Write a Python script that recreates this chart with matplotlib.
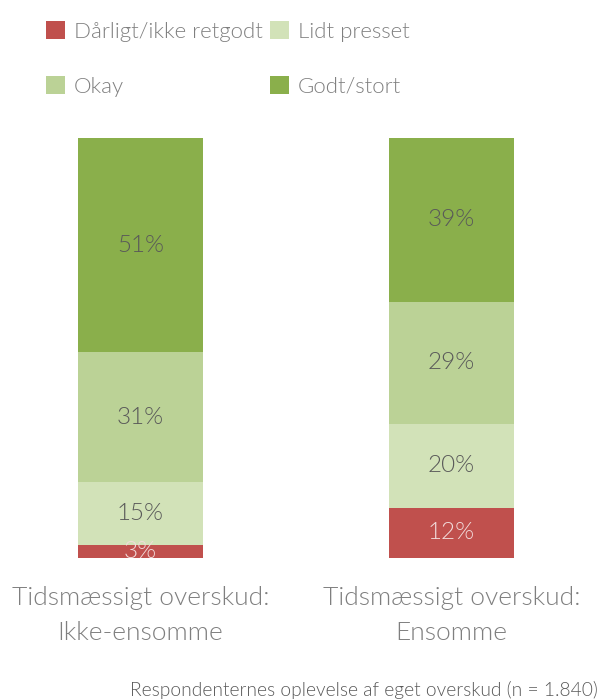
import matplotlib
matplotlib.use("Agg")
import matplotlib.pyplot as plt

plt.rcParams['font.family'] = ['Lato', 'DejaVu Sans']
plt.rcParams['font.weight'] = 300

categories = ["Tidsmæssigt overskud:\nIkke-ensomme", "Tidsmæssigt overskud:\nEnsomme"]
series_names = ["Dårligt/ikke retgodt", "Lidt presset", "Okay", "Godt/stort"]
values = {
    "Dårligt/ikke retgodt": [3, 12],
    "Lidt presset": [15, 20],
    "Okay": [31, 29],
    "Godt/stort": [51, 39],
}
colors = {
    "Dårligt/ikke retgodt": "#C0504D",
    "Lidt presset": "#D2E2B8",
    "Okay": "#BBD296",
    "Godt/stort": "#8AAF4B",
}
label_colors = {
    "Dårligt/ikke retgodt": "#F2DCDB",
    "Lidt presset": "#595959",
    "Okay": "#595959",
    "Godt/stort": "#595959",
}
note = "Respondenternes oplevelse af eget overskud (n = 1.840)"

fig = plt.figure(figsize=(6.01, 7), dpi=100)
ax = fig.add_axes([0, 142 / 700, 1, 420 / 700])
x = list(range(len(categories)))
bottoms = [0] * len(categories)
handles = {}
for name in series_names:
    vals = values[name]
    bars = ax.bar(x, vals, width=125 / 311, bottom=bottoms, color=colors[name], label=name)
    handles[name] = bars
    for xi, v, b in zip(x, vals, bottoms):
        ax.text(xi, b + v / 2, f"{v}%", ha="center", va="center", fontsize=17.5,
                color=label_colors[name], fontweight=300)
    bottoms = [b + v for b, v in zip(bottoms, vals)]

ax.set_xlim(-140.5 / 311, (601 - 140.5) / 311)
ax.set_ylim(0, 100)
ax.axis("off")
for xi, c in zip(x, categories):
    ax.text(xi, -6.6, c, ha="center", va="top", fontsize=19, color="#7F7F7F",
            linespacing=1.6, fontweight=300)

order = ["Dårligt/ikke retgodt", "Okay", "Lidt presset", "Godt/stort"]
fig.legend([handles[n] for n in order], order, ncol=2, loc="upper left",
           bbox_to_anchor=(46 / 601, 1 - 21 / 700), frameon=False, fontsize=16,
           labelcolor="#7F7F7F", handlelength=0.85, handleheight=0.85,
           handletextpad=0.4, columnspacing=0.35, labelspacing=1.55,
           borderaxespad=0, borderpad=0)

fig.text(598 / 601, 1 - 690 / 700, note, ha="right", va="center", fontsize=13.8,
         color="#595959", fontweight=300)
fig.savefig("out.png", dpi=100)
